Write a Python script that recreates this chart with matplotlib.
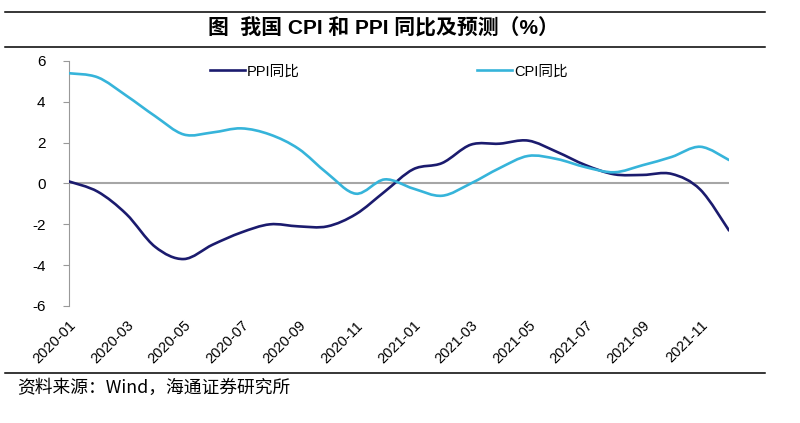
"""我国 CPI / PPI 同比及预测,仿 Excel 平滑折线样式。"""

import numpy as np
import matplotlib
matplotlib.use("Agg")
import matplotlib.pyplot as plt
from matplotlib.path import Path
from matplotlib.patches import PathPatch
from matplotlib.lines import Line2D

plt.rcParams["font.family"] = ["Liberation Sans", "Noto Sans CJK SC"]

# 月份:2020-01 ~ 2021-12
months = [f"{y}-{m:02d}" for y in (2020, 2021) for m in range(1, 13)]
ppi = [0.1, -0.4, -1.5, -3.1, -3.7, -3.0, -2.4, -2.0, -2.1, -2.1, -1.5, -0.4,
       0.7, 1.0, 1.9, 1.95, 2.1, 1.55, 0.9, 0.45, 0.42, 0.47, -0.3, -2.3]
cpi = [5.4, 5.2, 4.3, 3.3, 2.4, 2.5, 2.7, 2.4, 1.7, 0.5, -0.5, 0.2,
       -0.25, -0.6, 0.0, 0.75, 1.35, 1.2, 0.8, 0.55, 0.9, 1.3, 1.8, 1.15]
yticks = [-6, -4, -2, 0, 2, 4, 6]

PPI_COLOR = "#1b1b6e"
CPI_COLOR = "#36b4da"


def smooth_path(xs, ys):
    """Catmull-Rom 轉三次 Bezier,近似 Excel 的平滑線。"""
    pts = np.column_stack([xs, ys]).astype(float)
    ext = np.vstack([pts[0], pts, pts[-1]])
    verts = [pts[0]]
    codes = [Path.MOVETO]
    for i in range(len(pts) - 1):
        p0, p1, p2, p3 = ext[i], ext[i + 1], ext[i + 2], ext[i + 3]
        verts += [p1 + (p2 - p0) / 6, p2 - (p3 - p1) / 6, p2]
        codes += [Path.CURVE4] * 3
    return Path(verts, codes)


fig = plt.figure(figsize=(8, 4.23), dpi=100)
ax = fig.add_axes([0.08625, 0.2766, 0.825, 0.5792])

x = np.arange(len(months))
ax.axhline(0, color="#a6a6a6", lw=1.5, zorder=1)
for vals, color in [(ppi, PPI_COLOR), (cpi, CPI_COLOR)]:
    ax.add_patch(PathPatch(smooth_path(x, vals), fill=False, edgecolor=color,
                           lw=1.9, capstyle="round", zorder=3))

ax.set_xlim(0, len(months) - 1)
ax.set_ylim(-6, 6)
ax.set_yticks(yticks)
ax.set_yticklabels([str(v) for v in yticks], fontsize=11)
ax.set_xticks(x[::2])
ax.set_xticklabels(months[::2], rotation=45, ha="right", va="top",
                   rotation_mode="anchor", fontsize=10.5)
ax.tick_params(axis="x", length=0, pad=9)
ax.tick_params(axis="y", length=4, color="#999999", pad=13)
for s in ("top", "right", "bottom"):
    ax.spines[s].set_visible(False)
ax.spines["left"].set_color("#999999")

handles = [Line2D([], [], color=PPI_COLOR, lw=1.9),
           Line2D([], [], color=CPI_COLOR, lw=1.9)]
ax.legend(handles, ["PPI同比", "CPI同比"], ncol=2, frameon=False,
          loc="upper left", bbox_to_anchor=(0.194, 1.04), fontsize=10.5,
          handlelength=2.4, handletextpad=0.1, columnspacing=12.2)

# 標題與上下分隔線
fig.text(0.479, 0.933, "图  我国 CPI 和 PPI 同比及预测（%）", ha="center",
         va="center", fontsize=15, fontweight="bold")
for yy in (0.972, 0.889, 0.118):
    fig.add_artist(Line2D([0.006, 0.956], [yy, yy], color="black", lw=1.1))
fig.text(0.022, 0.083, "资料来源：Wind，海通证券研究所", ha="left",
         va="center", fontsize=12.8, family=["Noto Sans CJK SC", "DejaVu Sans"])

fig.savefig("out.png", dpi=100, facecolor="white")
